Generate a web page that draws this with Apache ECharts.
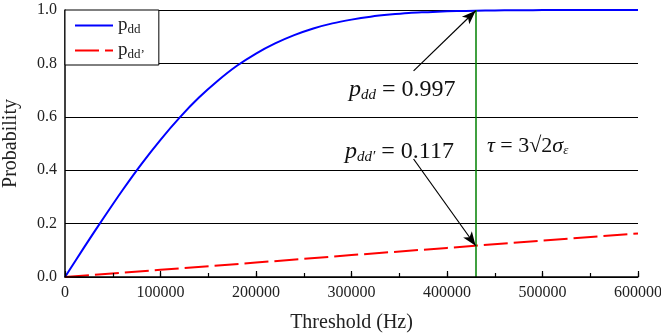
<!DOCTYPE html>
<html>
<head>
<meta charset="utf-8">
<script src="https://cdn.jsdelivr.net/npm/echarts@6/dist/echarts.min.js"></script>
<style>
  html, body { margin: 0; padding: 0; background: #fff; }
  #chart { width: 661px; height: 335px; }
</style>
</head>
<body>
<div id="chart"></div>
<script>
// thresholds (Hz)
var thresholds = [0, 20000, 40000, 60000, 80000, 100000, 120000, 140000, 160000, 180000,
  200000, 220000, 240000, 260000, 280000, 300000, 320000, 340000, 360000, 380000,
  400000, 420000, 440000, 460000, 480000, 500000, 520000, 540000, 560000, 580000, 600000];
// p_dd
var pdd = [0, 0.111, 0.219, 0.324, 0.423, 0.514, 0.597, 0.671, 0.735, 0.791,
  0.837, 0.875, 0.906, 0.931, 0.950, 0.964, 0.975, 0.983, 0.989, 0.992,
  0.995, 0.9966, 0.998, 0.9988, 0.9993, 0.9996, 0.9998, 0.9999, 1, 1, 1];
// p_dd'
var pddPrimeX = [0, 100000, 200000, 300000, 400000, 500000, 600000];
var pddPrime = [0, 0.027, 0.054, 0.082, 0.109, 0.136, 0.163];
var tau = 430000;           // green line
var pddAtTau = 0.997;
var pddPrimeAtTau = 0.117;

var serif = '"Liberation Serif", "DejaVu Serif", serif';

var chart = echarts.init(document.getElementById('chart'));

var option = {
  animation: false,
  backgroundColor: '#fff',
  textStyle: { fontFamily: serif },
  grid: { left: 65, right: 23, top: 10, bottom: 58, containLabel: false, outerBoundsMode: 'none' },
  legend: {
    left: 65, top: 10,
    orient: 'vertical',
    padding: [6, 14, 4, 10],
    itemGap: 5,
    itemWidth: 38, itemHeight: 2,
    backgroundColor: '#fff',
    borderColor: '#000', borderWidth: 1, borderRadius: 0,
    data: [
      { name: 'pdd', icon: 'rect' },
      { name: 'pddp', icon: 'path://M0,0h24v2h-24z M30,0h8v2h-8z' }
    ],
    formatter: function (name) {
      return name == 'pdd' ? '{p|p}{s|dd}' : '{p|p}{s|dd\u2019}';
    },
    textStyle: {
      fontFamily: serif,
      rich: {
        p: { fontSize: 19, color: '#222', fontFamily: serif },
        s: { fontSize: 13, color: '#222', fontFamily: serif, padding: [8, 0, 0, 0] }
      }
    }
  },
  xAxis: [
    {
      type: 'value',
      min: 0, max: 600000, interval: 100000,
      name: 'Threshold (Hz)',
      nameLocation: 'middle', nameGap: 36,
      nameTextStyle: { fontFamily: serif, fontSize: 20, color: '#222' },
      axisLine: { show: true, onZero: false, lineStyle: { color: '#000', width: 1.5 } },
      axisTick: { show: true, inside: true, length: 6, lineStyle: { color: '#000', width: 1.2 } },
      axisLabel: {
        fontFamily: serif, fontSize: 16, color: '#222', margin: 8,
        formatter: function (v) { return String(v); }
      },
      splitLine: { show: false },
      z: 5
    },
    {
      // minor ticks every 50000
      type: 'value', position: 'bottom',
      min: 0, max: 600000, interval: 50000,
      axisLine: { show: false, onZero: false },
      axisTick: { show: true, inside: true, length: 4, lineStyle: { color: '#000', width: 1.2 } },
      axisLabel: { show: false },
      splitLine: { show: false },
      z: 5
    }
  ],
  yAxis: {
    type: 'value',
    min: 0, max: 1, interval: 0.2,
    name: 'Probability',
    nameLocation: 'middle', nameGap: 44,
    nameTextStyle: { fontFamily: serif, fontSize: 20, color: '#222' },
    axisLine: { show: true, lineStyle: { color: '#000', width: 1.5 } },
    axisTick: { show: true, inside: true, length: 6, lineStyle: { color: '#000' } },
    axisLabel: {
      fontFamily: serif, fontSize: 16, color: '#222', margin: 8,
      formatter: function (v) { return v.toFixed(1); }
    },
    splitLine: { show: true, lineStyle: { color: '#000', width: 1.2 } }
  },
  series: [
    {
      name: 'pdd',
      type: 'line',
      symbol: 'none',
      smooth: 0.3,
      data: thresholds.map(function (x, i) { return [x, pdd[i]]; }),
      lineStyle: { color: '#0000ff', width: 2 },
      itemStyle: { color: '#0000ff' },
      z: 3,
      markLine: {
        silent: true,
        symbol: ['none', 'none'],
        label: { show: false },
        lineStyle: { color: '#008000', width: 1.5, type: 'solid' },
        data: [{ xAxis: tau }]
      }
    },
    {
      name: 'pddp',
      type: 'line',
      symbol: 'none',
      data: pddPrimeX.map(function (x, i) { return [x, pddPrime[i]]; }),
      lineStyle: { color: '#ff0000', width: 2, type: [24, 6] },
      itemStyle: { color: '#ff0000' },
      z: 3,
      markLine: {
        silent: true,
        symbol: ['none', 'arrow'],
        symbolSize: [8, 14],
        label: { show: false },
        lineStyle: { color: '#000', width: 1.2, type: 'solid' },
        data: [
          [{ coord: [365000, 0.772] }, { coord: [tau, pddAtTau] }],
          [{ coord: [365000, 0.442] }, { coord: [tau, pddPrimeAtTau] }]
        ]
      }
    }
  ],
  graphic: [
    {
      type: 'text', left: 349, top: 78,
      style: {
        text: '{p|p}{s|dd}{t| = 0.997}',
        rich: {
          p: { fontFamily: serif, fontStyle: 'italic', fontSize: 24, fill: '#111' },
          s: { fontFamily: serif, fontStyle: 'italic', fontSize: 15, fill: '#111', padding: [10, 0, 0, 0] },
          t: { fontFamily: serif, fontSize: 24, fill: '#111' }
        }
      }
    },
    {
      type: 'text', left: 345, top: 140,
      style: {
        text: '{p|p}{s|dd\u2032}{t| = 0.117}',
        rich: {
          p: { fontFamily: serif, fontStyle: 'italic', fontSize: 24, fill: '#111' },
          s: { fontFamily: serif, fontStyle: 'italic', fontSize: 15, fill: '#111', padding: [10, 0, 0, 0] },
          t: { fontFamily: serif, fontSize: 24, fill: '#111' }
        }
      }
    },
    {
      type: 'text', left: 487, top: 135,
      style: {
        text: '{p|\u03c4}{t| = 3\u221a2}{p|\u03c3}{s|\u03b5}',
        rich: {
          p: { fontFamily: serif, fontStyle: 'italic', fontSize: 22, fill: '#111' },
          s: { fontFamily: serif, fontStyle: 'italic', fontSize: 13, fill: '#111', padding: [10, 0, 0, 0] },
          t: { fontFamily: serif, fontSize: 22, fill: '#111' }
        }
      }
    }
  ]
};

chart.setOption(option);
window.addEventListener('resize', function () {
  chart.resize();
});
</script>
</body>
</html>
